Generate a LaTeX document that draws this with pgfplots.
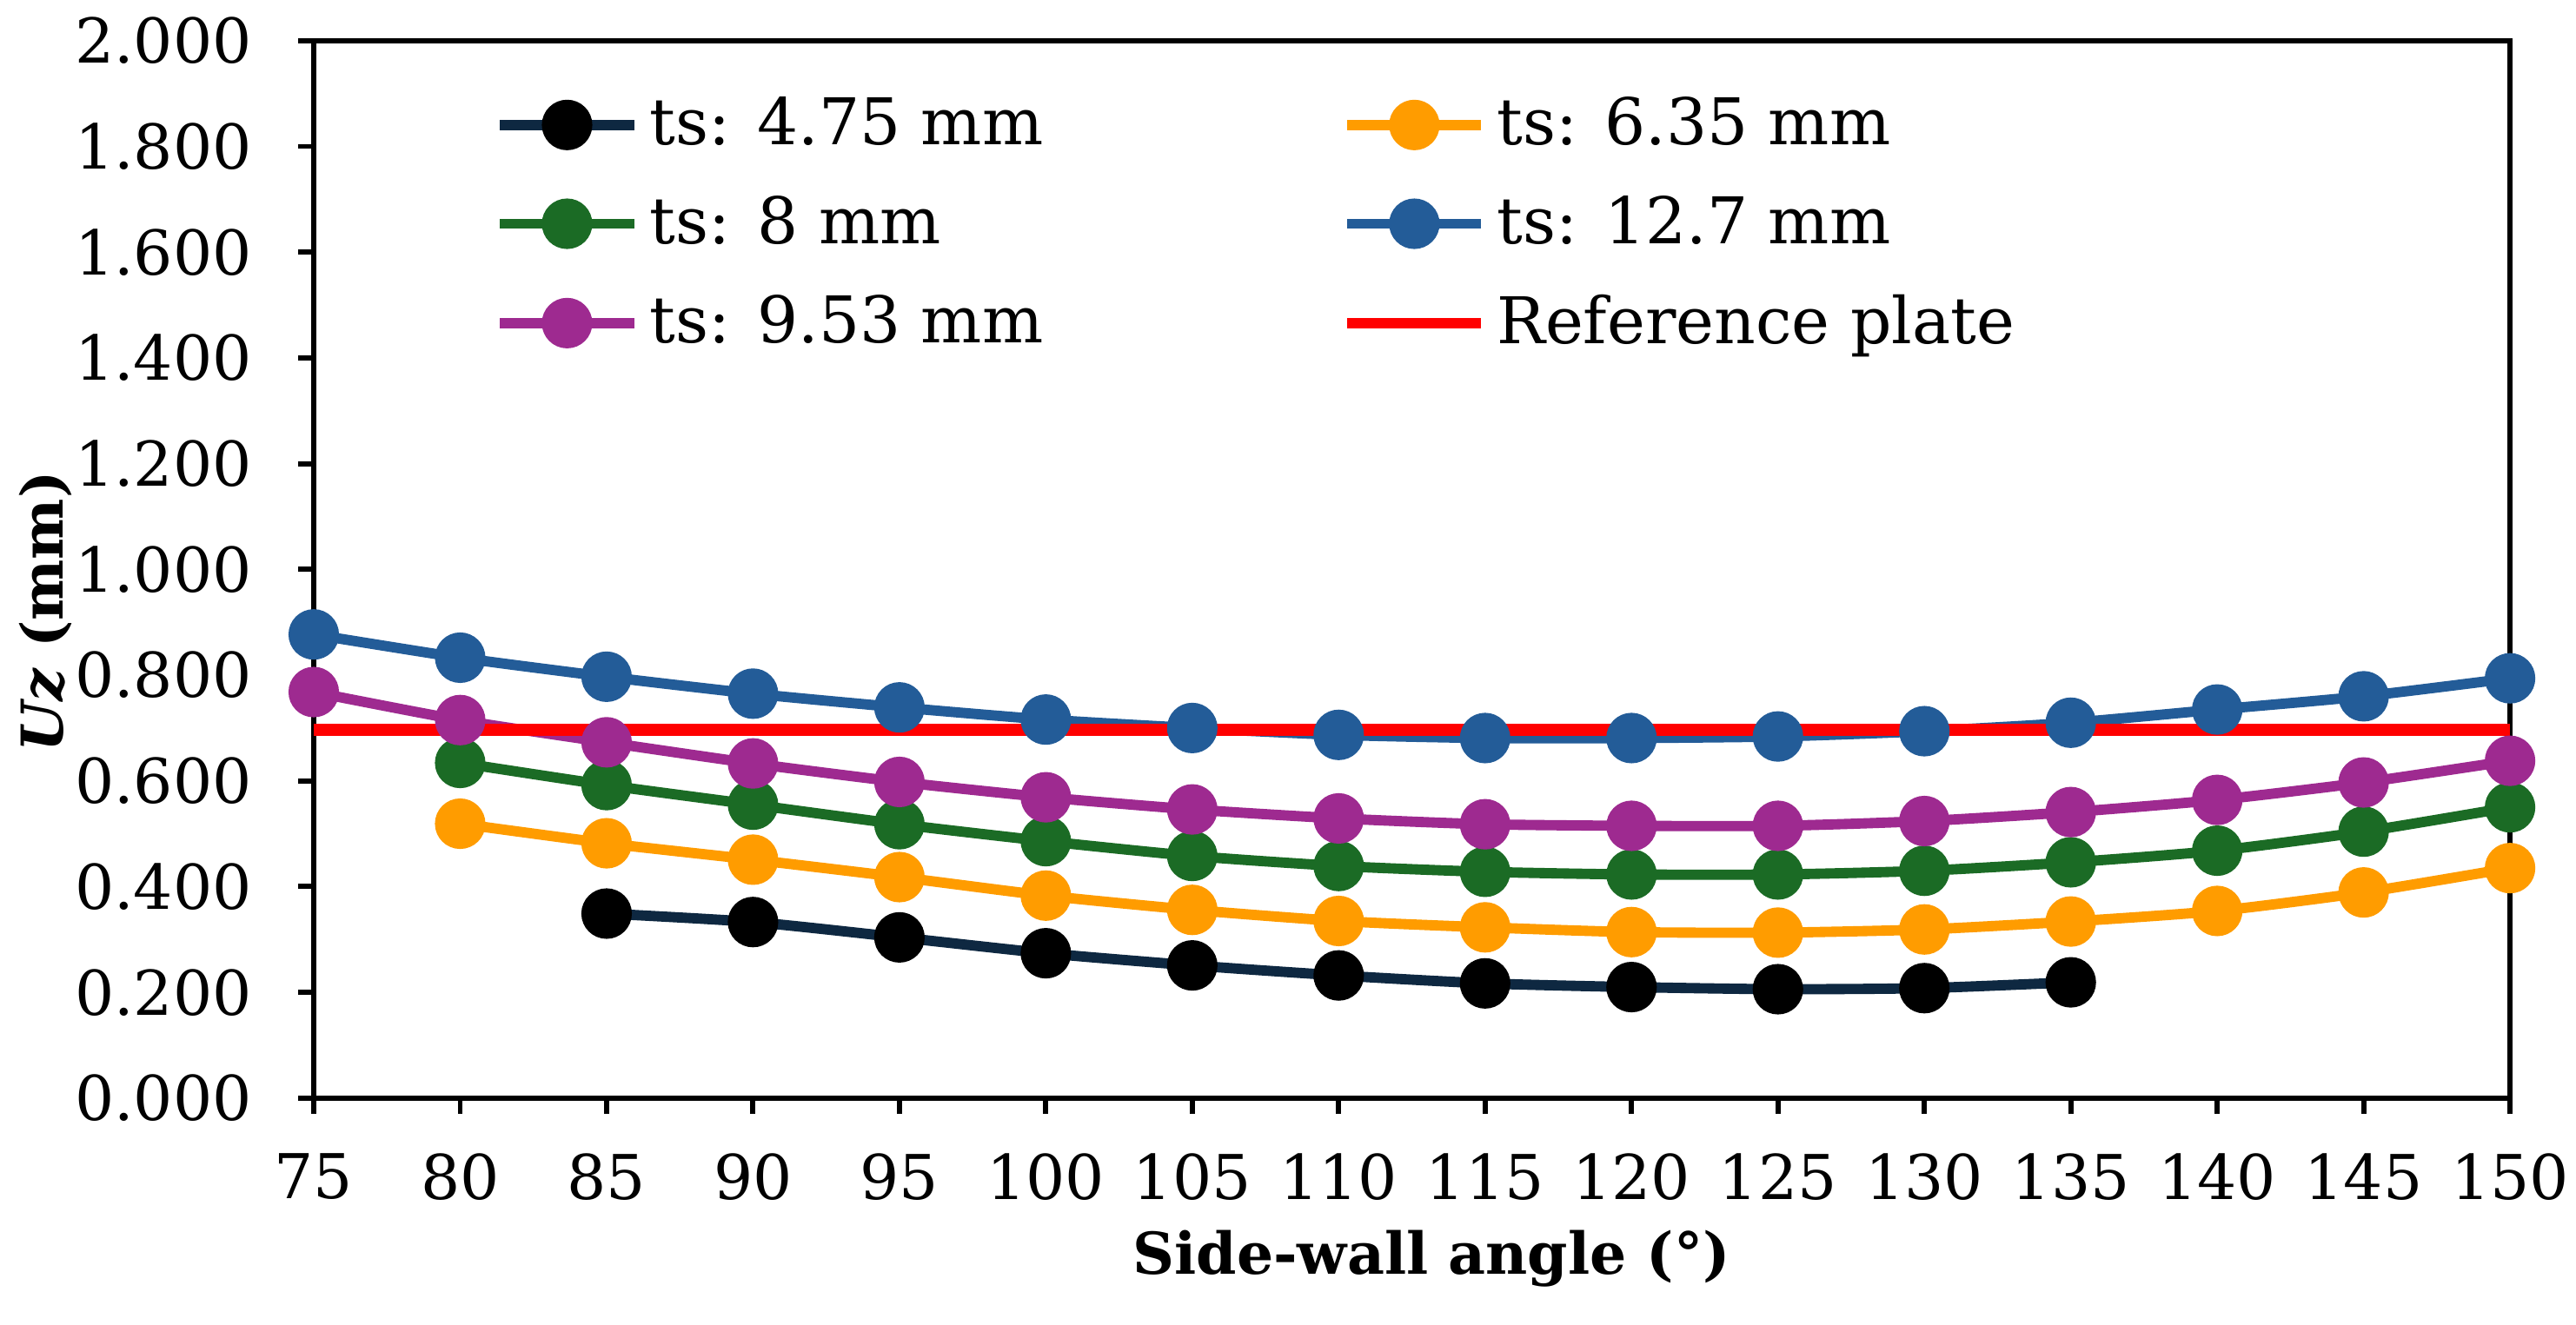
\documentclass[border=0pt]{standalone}
\usepackage{fontspec}
\setmainfont{DejaVu Serif}
\usepackage{pgfplots}
\pgfplotsset{compat=1.18}
\definecolor{cnavy}{HTML}{0E2841}
\definecolor{corange}{HTML}{FF9C00}
\definecolor{cgreen}{HTML}{1B6B25}
\definecolor{cblue}{HTML}{235C98}
\definecolor{cpurple}{HTML}{9E2A90}
\begin{document}
\begin{tikzpicture}
\begin{axis}[
  scale only axis, width=426.3pt, height=205.3pt,
  xmin=75, xmax=150, ymin=0, ymax=2,
  xtick={75,80,...,150},
  ytick={0,0.2,...,2.01},
  axis line style={line width=1.1pt},
  tick style={line width=1pt, black},
  tick align=outside, major tick length=3pt,
  xtick pos=bottom, ytick pos=left,
  /pgf/number format/assume math mode=true,
  yticklabel style={xshift=-5.5pt, /pgf/number format/.cd, fixed, fixed zerofill, precision=3},
  xticklabel style={yshift=-4.3pt},
  ticklabel style={font=\fontsize{12}{14}\selectfont},
  xlabel={\textbf{Side-wall angle (°)}},
  ylabel={\textbf{\textit{Uz} (mm)}},
  label style={font=\fontsize{11.2}{13}\selectfont},
  xlabel style={at={(axis description cs:0.509,-0.152)}, anchor=center},
  ylabel style={at={(axis description cs:-0.122,0.46)}, anchor=center},
  legend columns=2,
  legend cell align=left,
  legend style={draw=none, fill=none, at={(axis description cs:0.075,0.967)}, anchor=north west,
    font=\fontsize{12.5}{15}\selectfont, row sep=4.4pt,
    /tikz/column 2/.style={column sep=56pt}},
  legend image code/.code={
    \draw[#1, line width=2pt] (0pt,0pt) -- (26pt,0pt);
    \draw[#1, mark repeat=2, mark phase=2, draw=none] plot coordinates {(0pt,0pt) (13pt,0pt) (26pt,0pt)};
  },
  every axis plot/.append style={line width=2pt, mark=*, mark size=3.9pt, smooth, tension=0.4},
]
\addplot[color=cnavy, mark options={fill=black, draw=black}] coordinates {
 (85,0.349) (90,0.333) (95,0.304) (100,0.274) (105,0.251) (110,0.232) (115,0.217) (120,0.210) (125,0.206) (130,0.208) (135,0.219)};
\addlegendentry{ts: 4.75 mm}
\addplot[color=corange] coordinates {
 (80,0.519) (85,0.482) (90,0.451) (95,0.418) (100,0.383) (105,0.356) (110,0.335) (115,0.323) (120,0.314) (125,0.313) (130,0.319) (135,0.334) (140,0.354) (145,0.389) (150,0.435)};
\addlegendentry{ts: 6.35 mm}
\addplot[color=cgreen] coordinates {
 (80,0.634) (85,0.592) (90,0.555) (95,0.518) (100,0.486) (105,0.458) (110,0.439) (115,0.428) (120,0.423) (125,0.423) (130,0.430) (135,0.446) (140,0.468) (145,0.504) (150,0.550)};
\addlegendentry{ts: 8 mm}
\addplot[color=cblue] coordinates {
 (75,0.877) (80,0.833) (85,0.797) (90,0.765) (95,0.739) (100,0.716) (105,0.700) (110,0.687) (115,0.681) (120,0.681) (125,0.684) (130,0.694) (135,0.710) (140,0.735) (145,0.760) (150,0.794)};
\addlegendentry{ts: 12.7 mm}
\addplot[color=cpurple] coordinates {
 (75,0.768) (80,0.715) (85,0.673) (90,0.633) (95,0.598) (100,0.569) (105,0.546) (110,0.529) (115,0.518) (120,0.515) (125,0.515) (130,0.524) (135,0.541) (140,0.564) (145,0.597) (150,0.638)};
\addlegendentry{ts: 9.53 mm}
\addplot[color=red, mark=none, line width=2.3pt, smooth=false] coordinates {(75,0.697) (150,0.697)};
\addlegendentry{Reference plate}
\end{axis}
\pgfresetboundingbox
\path[use as bounding box] (-60.9pt,-43.9pt) rectangle (439.1pt,213.2pt);
\end{tikzpicture}
\end{document}
